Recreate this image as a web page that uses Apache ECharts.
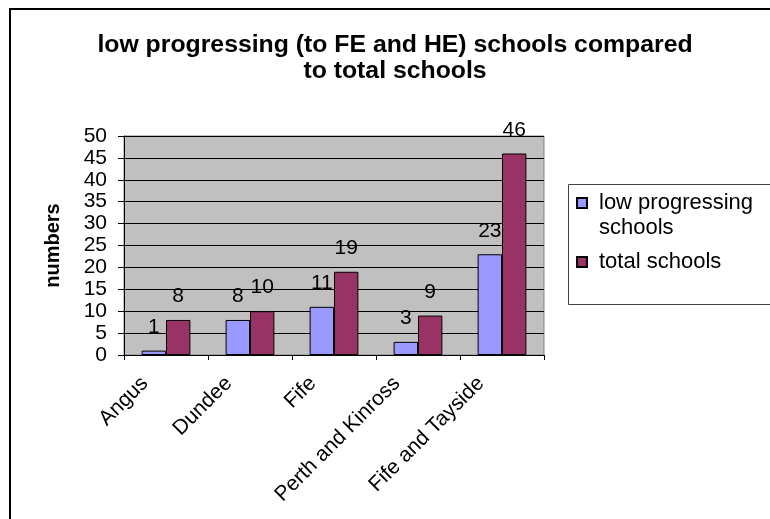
<!DOCTYPE html>
<html>
<head>
<meta charset="utf-8">
<script src="https://cdn.jsdelivr.net/npm/echarts@6/dist/echarts.min.js"></script>
<style>
  html, body { margin: 0; padding: 0; background: #ffffff; }
  #chart { width: 770px; height: 519px; }
</style>
</head>
<body>
<div id="chart"></div>
<script>
// Council areas along the x axis
const categories = ['Angus', 'Dundee', 'Fife', 'Perth and Kinross', 'Fife and Tayside'];
// Schools with low progression to further / higher education
const lowProgressing = [1, 8, 11, 3, 23];
// All schools in each area
const totalSchools = [8, 10, 19, 9, 46];
// Value axis ticks
const yMin = 0;
const yMax = 50;
const yStep = 5;

const seriesNames = ['low progressing schools', 'total schools'];
const FONT = '"Liberation Sans", Arial, sans-serif';

const chart = echarts.init(document.getElementById('chart'), null, { renderer: 'canvas' });

const labelStyle = {
  show: true,
  position: 'top',
  distance: 13,
  color: '#000',
  fontFamily: FONT,
  fontSize: 21
};

chart.setOption({
  animation: false,
  backgroundColor: '#ffffff',
  title: {
    text: 'low progressing (to FE and HE) schools compared\nto total schools',
    left: 390,
    top: 27,
    textAlign: 'center',
    textStyle: {
      fontFamily: FONT,
      fontWeight: 'bold',
      fontSize: 24.8,
      lineHeight: 26,
      color: '#000'
    }
  },
  legend: [
    {
      // leading blank line keeps the marker level with the first text line
      data: [seriesNames[0]],
      orient: 'vertical',
      left: 576,
      top: 165.5,
      padding: 0,
      itemWidth: 10,
      itemHeight: 10,
      icon: 'rect',
      formatter: () => '\nlow progressing\nschools',
      textStyle: {
        fontFamily: FONT,
        fontSize: 22,
        lineHeight: 25,
        color: '#000',
        padding: [0, 0, 0, 7]
      }
    },
    {
      data: [seriesNames[1]],
      orient: 'vertical',
      left: 576,
      top: 249.5,
      padding: 0,
      itemWidth: 10,
      itemHeight: 10,
      icon: 'rect',
      textStyle: {
        fontFamily: FONT,
        fontSize: 22,
        lineHeight: 25,
        color: '#000',
        padding: [0, 0, 0, 7]
      }
    }
  ],
  grid: {
    left: 124,
    top: 136,
    width: 420,
    height: 219,
    show: true,
    backgroundColor: '#C0C0C0',
    borderColor: '#808080',
    borderWidth: 1
  },
  xAxis: {
    type: 'category',
    data: categories,
    boundaryGap: true,
    axisLine: { show: true, lineStyle: { color: '#000', width: 1 } },
    axisTick: { show: true, alignWithLabel: false, length: 5, lineStyle: { color: '#000' } },
    axisLabel: {
      interval: 0,
      rotate: 45,
      margin: 4,
      padding: [0, 30, 0, 0],
      color: '#000',
      fontFamily: FONT,
      fontSize: 21
    },
    splitLine: { show: false }
  },
  yAxis: {
    type: 'value',
    min: yMin,
    max: yMax,
    interval: yStep,
    name: 'numbers',
    nameLocation: 'middle',
    nameRotate: 90,
    nameGap: 61,
    nameTextStyle: {
      fontFamily: FONT,
      fontWeight: 'bold',
      fontSize: 20,
      color: '#000'
    },
    axisLine: { show: true, lineStyle: { color: '#000', width: 1 } },
    axisTick: { show: true, length: 6, lineStyle: { color: '#000' } },
    axisLabel: {
      margin: 17,
      color: '#000',
      fontFamily: FONT,
      fontSize: 21
    },
    splitLine: { show: true, lineStyle: { color: '#000', width: 1 } }
  },
  series: [
    {
      name: seriesNames[0],
      type: 'bar',
      data: lowProgressing,
      barGap: '0%',
      barCategoryGap: '42%',
      itemStyle: { color: '#9999FF', borderColor: '#000', borderWidth: 1 },
      label: labelStyle
    },
    {
      name: seriesNames[1],
      type: 'bar',
      data: totalSchools,
      barGap: '0%',
      barCategoryGap: '42%',
      itemStyle: { color: '#993366', borderColor: '#000', borderWidth: 1 },
      label: labelStyle
    }
  ],
  graphic: [
    {
      type: 'rect',
      silent: true,
      z: -10,
      shape: { x: 10, y: 9, width: 800, height: 600 },
      style: { fill: 'none', stroke: '#000', lineWidth: 2 }
    },
    {
      type: 'rect',
      silent: true,
      z: -10,
      shape: { x: 568.5, y: 184.5, width: 260, height: 120 },
      style: { fill: 'none', stroke: '#444', lineWidth: 1 }
    }
  ]
});
</script>
</body>
</html>
